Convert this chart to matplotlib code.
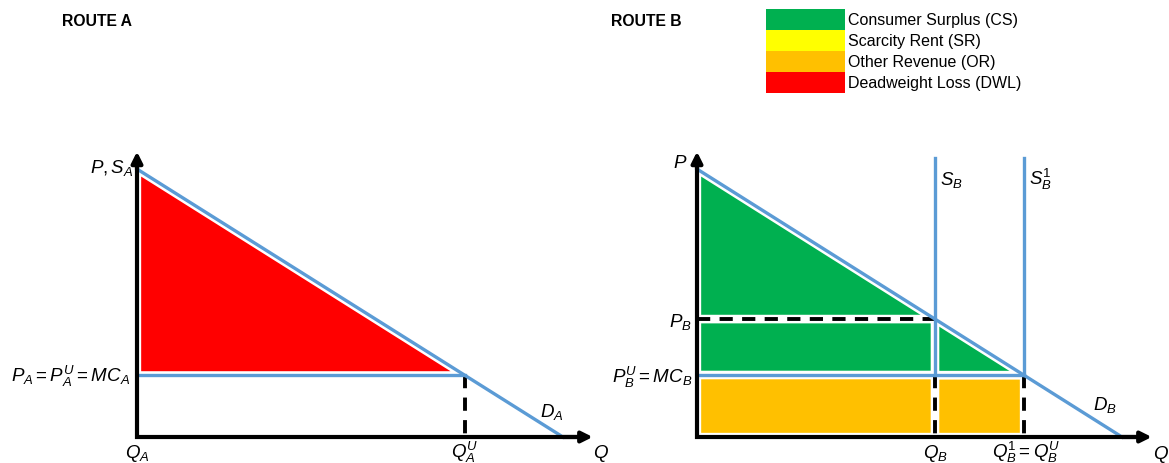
import matplotlib.pyplot as plt

plt.rcParams['font.family'] = ['Liberation Sans', 'DejaVu Sans']
plt.rcParams['mathtext.fontset'] = 'custom'
plt.rcParams['mathtext.rm'] = 'Liberation Sans'
plt.rcParams['mathtext.it'] = 'Liberation Sans:italic'
plt.rcParams['mathtext.bf'] = 'Liberation Sans:bold'

# demand curve (same in both routes), P = 100 at Q = 0, Q = 100 at P = 0
demand_q = [0, 100]
demand_p = [100, 0]

# route A
mc_a = 23
q_a_u = 77

# route B
p_b = 44
mc_b = 23
q_b = 56
q_b1 = 77
supply_top = 104

legend_labels = ["Consumer Surplus (CS)", "Scarcity Rent (SR)",
                 "Other Revenue (OR)", "Deadweight Loss (DWL)"]
legend_colors = ["#00B050", "#FFFF00", "#FFC000", "#FF0000"]

blue = "#5B9BD5"
green = "#00B050"
orange = "#FFC000"
red = "#FF0000"

W, H = 1169, 464
fig = plt.figure(figsize=(W / 100, H / 100), dpi=100)

# scale: 4.26 px per Q unit, 2.68 px per P unit
ax_a = fig.add_axes([137 / W, 26 / H, 460 / W, 289.4 / H])
ax_b = fig.add_axes([697 / W, 26 / H, 459 / W, 289.4 / H])
for ax in (ax_a, ax_b):
    ax.set_xlim(0, 108)
    ax.set_ylim(0, 108)
    ax.axis('off')


def shade(ax, qs, ps, color):
    ax.fill(qs, ps, facecolor=color, lw=0, zorder=1, clip_on=False)
    ax.fill(qs, ps, facecolor='none', edgecolor='white', lw=6, zorder=2, clip_on=False)


def axes_arrows(ax):
    ax.plot([0, 0, 104], [104, 0, 0], color='black', lw=3, clip_on=False,
            solid_capstyle='butt', solid_joinstyle='miter', zorder=6)
    arrow = dict(arrowstyle='-|>', lw=3, color='black', mutation_scale=16,
                 shrinkA=0, shrinkB=0)
    ax.annotate('', xy=(107, 0), xytext=(100, 0), arrowprops=arrow, zorder=6)
    ax.annotate('', xy=(0, 106.5), xytext=(0, 100), arrowprops=arrow, zorder=6)


line_kw = dict(color=blue, lw=2.4, zorder=4, clip_on=False)
dash_kw = dict(color='black', lw=2.8, dashes=(3.4, 2.4), zorder=3, clip_on=False)
fs = 13.5

# ---- Route A ----
shade(ax_a, [0, 0, q_a_u], [demand_p[0], mc_a, mc_a], red)
ax_a.plot(demand_q, demand_p, **line_kw)
ax_a.plot([0, q_a_u], [mc_a, mc_a], **line_kw)
ax_a.plot([q_a_u, q_a_u], [mc_a, 0], **dash_kw)
axes_arrows(ax_a)

ax_a.text(-0.9, 99, r"$P, S_A$", ha='right', va='baseline', fontsize=fs)
ax_a.text(-1.6, 21, r"$P_A = P_A^U = MC_A$", ha='right', va='baseline', fontsize=fs)
ax_a.text(0, -7.5, r"$Q_A$", ha='center', va='baseline', fontsize=fs)
ax_a.text(q_a_u, -7.5, r"$Q_A^U$", ha='center', va='baseline', fontsize=fs)
ax_a.text(107, -7.5, r"$Q$", ha='left', va='baseline', fontsize=fs)
ax_a.text(94.6, 7.8, r"$D_A$", ha='left', va='baseline', fontsize=fs)

# ---- Route B ----
shade(ax_b, [0, 0, q_b], [demand_p[0], p_b, p_b], green)
shade(ax_b, [0, 0, q_b, q_b], [p_b, mc_b, mc_b, p_b], green)
shade(ax_b, [q_b, q_b, q_b1], [p_b, mc_b, mc_b], green)
shade(ax_b, [0, 0, q_b, q_b], [mc_b, 0, 0, mc_b], orange)
shade(ax_b, [q_b, q_b, q_b1, q_b1], [mc_b, 0, 0, mc_b], orange)

ax_b.plot(demand_q, demand_p, **line_kw)
ax_b.plot([0, q_b1], [mc_b, mc_b], **line_kw)
ax_b.plot([q_b, q_b], [supply_top, mc_b], **line_kw)
ax_b.plot([q_b1, q_b1], [supply_top, mc_b], **line_kw)
ax_b.plot([0, q_b], [p_b, p_b], **dash_kw)
ax_b.plot([q_b, q_b], [mc_b, 0], **dash_kw)
ax_b.plot([q_b1, q_b1], [mc_b, 0], **dash_kw)
axes_arrows(ax_b)

ax_b.text(-2.2, 100.7, r"$P$", ha='right', va='baseline', fontsize=fs)
ax_b.text(-1.2, 41.4, r"$P_B$", ha='right', va='baseline', fontsize=fs)
ax_b.text(-1.2, 20.5, r"$P_B^U = MC_B$", ha='right', va='baseline', fontsize=fs)
ax_b.text(57.2, 94.4, r"$S_B$", ha='left', va='baseline', fontsize=fs)
ax_b.text(78.1, 94.4, r"$S_B^1$", ha='left', va='baseline', fontsize=fs)
ax_b.text(93.2, 10.4, r"$D_B$", ha='left', va='baseline', fontsize=fs)
ax_b.text(q_b, -7.5, r"$Q_B$", ha='center', va='baseline', fontsize=fs)
ax_b.text(q_b1 + 0.5, -7.5, r"$Q_B^1 = Q_B^U$", ha='center', va='baseline', fontsize=fs)
ax_b.text(107.3, -8, r"$Q$", ha='left', va='baseline', fontsize=fs)

# ---- titles ----
fig.text(62 / W, 1 - 22 / H, "ROUTE A", ha='left', va='center',
         fontsize=11.3, fontweight='bold')
fig.text(611 / W, 1 - 22 / H, "ROUTE B", ha='left', va='center',
         fontsize=11.3, fontweight='bold')

# ---- legend ----
ax_leg = fig.add_axes([766 / W, 1 - 94 / H, 79 / W, 84 / H])
ax_leg.barh(range(len(legend_labels)), 1, height=1, color=legend_colors)
ax_leg.set_xlim(0, 1)
ax_leg.set_ylim(len(legend_labels) - 0.5, -0.5)
ax_leg.axis('off')
for i, lab in enumerate(legend_labels):
    ax_leg.text(1.04, i, lab, ha='left', va='center', fontsize=11.5)

fig.savefig("out.png", dpi=100)
